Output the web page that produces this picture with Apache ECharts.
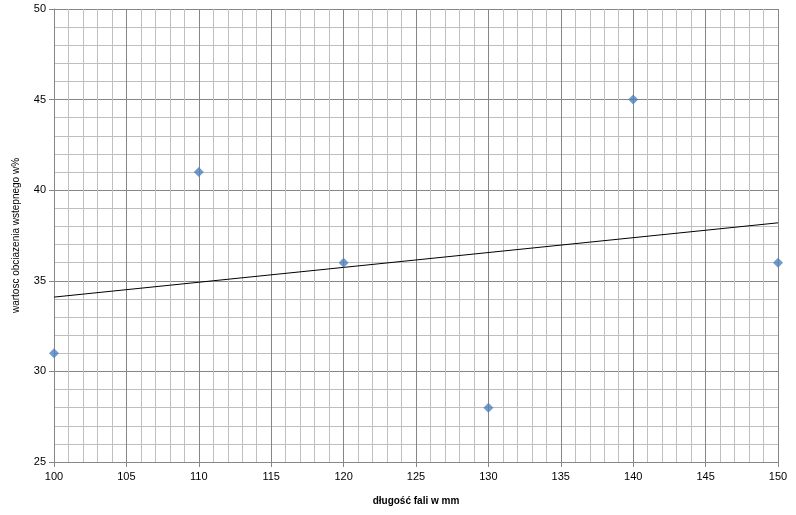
<!DOCTYPE html>
<html>
<head>
<meta charset="utf-8">
<script src="https://cdn.jsdelivr.net/npm/echarts@6/dist/echarts.min.js"></script>
<style>html,body{margin:0;padding:0;background:#fff}#c{width:796px;height:515px}</style>
</head>
<body>
<div id="c"></div>
<script>
const xValues = [100, 110, 120, 130, 140, 150];
const yValues = [31, 41, 36, 28, 45, 36];
const trendX = [100, 150];
const trendY = [34.1, 38.2];
const xTitle = 'długość fali w mm';
const yTitle = 'wartosc obciazenia wstepnego w%';

const chart = echarts.init(document.getElementById('c'), null, {renderer: 'canvas'});
const font = 'Liberation Sans, Arial, sans-serif';
chart.setOption({
  animation: false,
  backgroundColor: '#fff',
  grid: {left: 54, top: 9, right: 18, bottom: 53},
  xAxis: {
    type: 'value', min: 100, max: 150, interval: 5,
    name: xTitle, nameLocation: 'middle', nameGap: 34,
    nameTextStyle: {fontFamily: font, fontSize: 10, fontWeight: 'bold', color: '#000'},
    axisLine: {show: true, lineStyle: {color: '#868686', width: 1}},
    axisTick: {show: true, length: 5, lineStyle: {color: '#868686'}},
    axisLabel: {fontFamily: font, fontSize: 11, color: '#000', margin: 9},
    splitLine: {show: true, lineStyle: {color: '#868686', width: 1}},
    minorTick: {show: false, splitNumber: 5},
    minorSplitLine: {show: true, lineStyle: {color: '#BFBFBF', width: 1}}
  },
  yAxis: {
    type: 'value', min: 25, max: 50, interval: 5,
    name: yTitle, nameLocation: 'middle', nameGap: 33, nameRotate: 90,
    nameTextStyle: {fontFamily: font, fontSize: 10, color: '#000'},
    axisLine: {show: true, lineStyle: {color: '#868686', width: 1}},
    axisTick: {show: true, length: 5, lineStyle: {color: '#868686'}},
    axisLabel: {fontFamily: font, fontSize: 11, color: '#000', margin: 8},
    splitLine: {show: true, lineStyle: {color: '#868686', width: 1}},
    minorTick: {show: false, splitNumber: 5},
    minorSplitLine: {show: true, lineStyle: {color: '#BFBFBF', width: 1}}
  },
  series: [
    {
      type: 'line',
      data: trendX.map((x, i) => [x, trendY[i]]),
      showSymbol: false, symbol: 'none',
      lineStyle: {color: '#000', width: 1},
      z: 3
    },
    {
      type: 'scatter',
      data: xValues.map((x, i) => [x, yValues[i]]),
      symbol: 'diamond', symbolSize: 10,
      itemStyle: {color: '#4F81BD'},
      z: 4
    }
  ]
});
</script>
</body>
</html>
